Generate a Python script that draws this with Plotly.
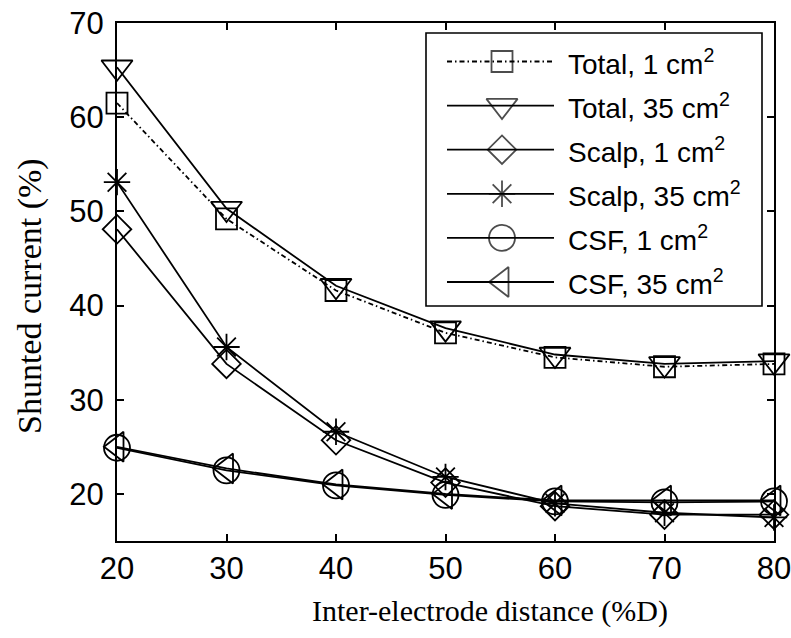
import plotly.graph_objects as go

# Inter-electrode distance (%D)
distance = [20, 30, 40, 50, 60, 70, 80]

# Shunted current (%) per compartment and electrode size
total_1cm = [61.5, 49.2, 41.6, 37.1, 34.5, 33.5, 33.8]
total_35cm = [65.3, 50.3, 42.1, 37.6, 34.8, 33.8, 34.1]
scalp_1cm = [48.1, 33.8, 25.7, 21.2, 18.7, 17.8, 17.8]
scalp_35cm = [53.1, 35.6, 26.6, 21.8, 19.0, 18.0, 17.5]
csf_1cm = [24.9, 22.5, 20.9, 19.9, 19.2, 19.1, 19.2]
csf_35cm = [25.0, 22.7, 21.0, 20.0, 19.3, 19.3, 19.3]

series_names = ["Total, 1 cm<sup>2</sup>", "Total, 35 cm<sup>2</sup>",
                "Scalp, 1 cm<sup>2</sup>", "Scalp, 35 cm<sup>2</sup>",
                "CSF, 1 cm<sup>2</sup>", "CSF, 35 cm<sup>2</sup>"]
series_values = [total_1cm, total_35cm, scalp_1cm, scalp_35cm, csf_1cm, csf_35cm]

x_ticks = [20, 30, 40, 50, 60, 70, 80]
y_ticks = [20, 30, 40, 50, 60, 70]

# marker style per series
symbols = ["square-open", "triangle-down-open", "diamond-open",
           "asterisk-open", "circle-open", "triangle-left-open"]
sizes = [21, 27, 22, 22, 26, 26]
dashes = ["5px,3px,1.5px,3px", "solid", "solid", "solid", "solid", "solid"]
INK = "#000000"
LW = 1.8

W, H = 791, 638
L, R, T, B = 117, 774, 23, 541

fig = go.Figure()

for name, vals, sym, sz, dash in zip(series_names, series_values, symbols, sizes, dashes):
    fig.add_trace(go.Scatter(
        x=distance, y=vals, mode="lines+markers", name=name,
        line=dict(color=INK, width=LW, dash=dash),
        marker=dict(symbol=sym, size=sz, color=INK, line=dict(color=INK, width=LW)),
        cliponaxis=False, showlegend=False,
    ))

# Legend box drawn on a pixel-space overlay axis
leg_x0, leg_x1, leg_y0, leg_y1 = 426, 762, 33, 306
row_y0, row_dy = 61.5, 44.1
line_x0, line_x1, mark_x, text_x = 447, 554, 502, 566

fig.add_shape(type="rect", xref="x2", yref="y2",
              x0=leg_x0, x1=leg_x1, y0=leg_y0, y1=leg_y1,
              line=dict(color=INK, width=1.6), fillcolor="white", layer="below")

for i, (name, sym, sz, dash) in enumerate(zip(series_names, symbols, sizes, dashes)):
    yy = row_y0 + i * row_dy
    fig.add_trace(go.Scatter(
        x=[line_x0, mark_x, line_x1], y=[yy, yy, yy], xaxis="x2", yaxis="y2",
        mode="lines+markers",
        line=dict(color=INK, width=LW, dash=dash),
        marker=dict(symbol=sym, size=[0, sz, 0], color=INK, line=dict(color=INK, width=LW)),
        cliponaxis=False, showlegend=False, hoverinfo="skip",
    ))
    fig.add_annotation(xref="x2", yref="y2", x=text_x, y=yy, text=name,
                       showarrow=False, xanchor="left", yanchor="middle",
                       font=dict(family="Liberation Sans, Arial", size=28, color=INK))

axis_common = dict(showline=True, linecolor=INK, linewidth=2,
                   ticks="inside", ticklen=7, tickwidth=1.6, tickcolor=INK,
                   mirror="allticks", showgrid=False, zeroline=False,
                   ticklabeloverflow="allow", automargin=False,
                   tickfont=dict(family="Liberation Sans, Arial", size=31, color=INK))

fig.update_layout(
    width=W, height=H,
    margin=dict(l=L, r=W - R, t=T, b=H - B, autoexpand=False),
    paper_bgcolor="white", plot_bgcolor="white",
    xaxis=dict(range=[20, 80], tickvals=x_ticks, ticktext=[str(v) for v in x_ticks],
               ticklabelstandoff=-1, **axis_common),
    yaxis=dict(range=[15, 70], tickvals=y_ticks, ticktext=[str(v) for v in y_ticks],
               ticklabelstandoff=5, **axis_common),
    xaxis2=dict(overlaying="x", range=[L, R], visible=False, domain=[0, 1]),
    yaxis2=dict(overlaying="y", range=[B, T], visible=False, domain=[0, 1]),
    showlegend=False,
)

# Axis titles
fig.add_annotation(xref="paper", yref="paper", x=(490 - L) / (R - L), y=-(611 - B) / (B - T),
                   text="Inter-electrode distance (%D)", showarrow=False,
                   xanchor="center", yanchor="middle",
                   font=dict(family="Liberation Serif, Times New Roman", size=30, color=INK))
fig.add_annotation(xref="paper", yref="paper", x=-(L - 30) / (R - L), y=(B - 296) / (B - T),
                   text="Shunted current (%)", textangle=-90, showarrow=False,
                   xanchor="center", yanchor="middle",
                   font=dict(family="Liberation Serif, Times New Roman", size=34, color=INK))

fig.write_html("out.html")
